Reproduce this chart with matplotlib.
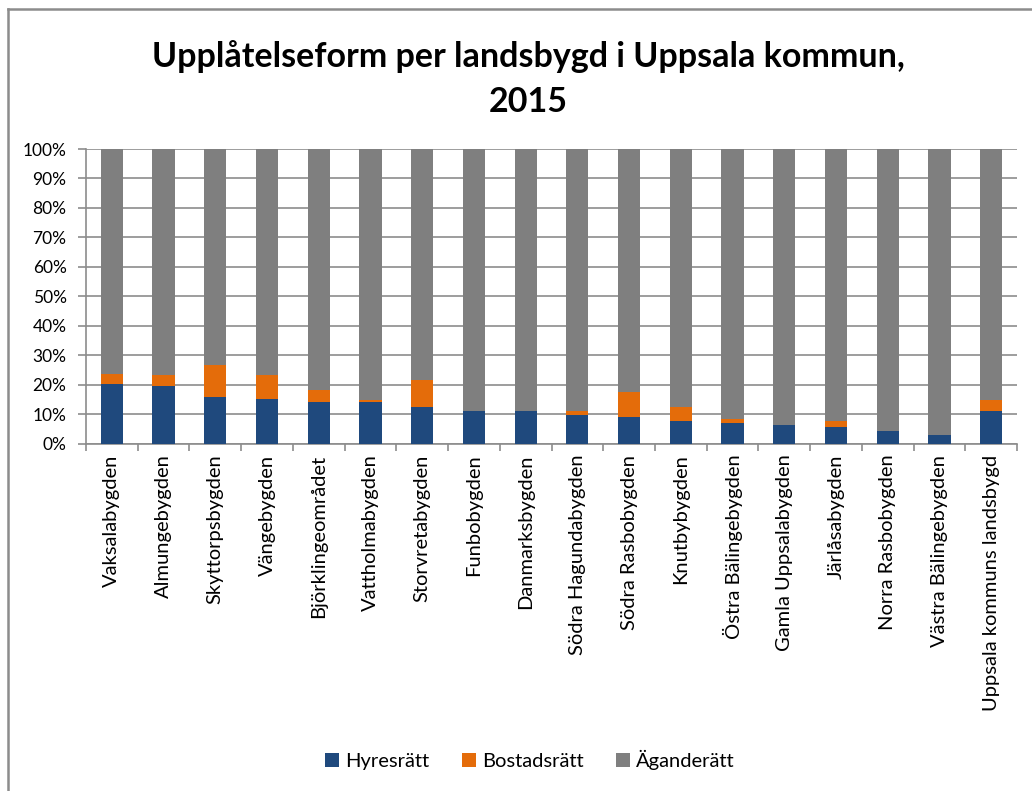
import numpy as np
import matplotlib.pyplot as plt
import matplotlib.ticker as ticker
from matplotlib.lines import Line2D

areas = ["Vaksalabygden", "Almungebygden", "Skyttorpsbygden", "Vängebygden",
         "Björklingeområdet", "Vattholmabygden", "Storvretabygden", "Funbobygden",
         "Danmarksbygden", "Södra Hagundabygden", "Södra Rasbobygden", "Knutbybygden",
         "Östra Bälingebygden", "Gamla Uppsalabygden", "Järlåsabygden",
         "Norra Rasbobygden", "Västra Bälingebygden", "Uppsala kommuns landsbygd"]
hyres = np.array([20.2, 19.4, 15.9, 15.2, 14.0, 14.0, 12.5, 11.1, 11.1,
                  9.8, 9.1, 7.7, 7.0, 6.4, 5.7, 4.2, 2.8, 11.1])
bostad = np.array([3.5, 3.7, 10.7, 7.9, 4.1, 0.7, 9.1, 0.0, 0.0,
                   1.3, 8.3, 4.8, 1.4, 0.0, 2.0, 0.0, 0.0, 3.6])
agande = 100.0 - hyres - bostad

C_BLUE, C_ORANGE, C_GRAY = "#1F497D", "#E46C0A", "#7F7F7F"

plt.rcParams['font.family'] = ['Lato', 'DejaVu Sans']

W, H = 1032, 791
fig = plt.figure(figsize=(W / 100, H / 100), dpi=100)
# chart frame: only the top and left edges fall inside the image
fig.add_artist(Line2D([8 / W, 8 / W], [0, 1 - 9 / H], color="#8c8c8c", lw=1.8))
fig.add_artist(Line2D([8 / W, 1], [1 - 9 / H, 1 - 9 / H], color="#8c8c8c", lw=1.8))

ax = fig.add_axes([86 / W, 1 - 443.5 / H, (1017 - 86) / W, (443.5 - 149) / H])

x = np.arange(len(areas))
w = 0.43
ax.bar(x, hyres, w, color=C_BLUE, label="Hyresrätt", zorder=3)
ax.bar(x, bostad, w, bottom=hyres, color=C_ORANGE, label="Bostadsrätt", zorder=3)
ax.bar(x, agande, w, bottom=hyres + bostad, color=C_GRAY, label="Äganderätt", zorder=3)

ax.set_xlim(-0.5, len(areas) - 0.5)
ax.set_ylim(0, 100)
ax.yaxis.set_major_locator(ticker.MultipleLocator(10))
ax.yaxis.set_major_formatter(ticker.FuncFormatter(lambda v, p: f"{v:.0f}%"))
ax.grid(axis='y', color="#8c8c8c", lw=1.2, zorder=0)
ax.set_xticks(x)
ax.set_xticklabels(areas, rotation=90, fontsize=14.5)
ax.xaxis.set_minor_locator(ticker.FixedLocator(np.arange(-0.5, len(areas), 1)))
ax.tick_params(axis='x', which='major', length=0, pad=8)
ax.tick_params(axis='x', which='minor', length=5, color="#8c8c8c", width=1.2)
ax.tick_params(axis='y', length=6, color="#8c8c8c", width=1.2, labelsize=12.5, pad=8)
for s in ["top", "right"]:
    ax.spines[s].set_visible(False)
for s in ["left", "bottom"]:
    ax.spines[s].set_color("#8c8c8c")
    ax.spines[s].set_linewidth(1.2)

fig.text(528 / W, 1 - 79 / H, "Upplåtelseform per landsbygd i Uppsala kommun,\n2015",
         ha="center", va="center", fontsize=24.5, fontweight="bold", linespacing=1.5)

fig.legend(loc="center", bbox_to_anchor=(530 / W, 1 - 760 / H), ncol=3, frameon=False,
           fontsize=14.5, handlelength=0.7, handleheight=0.7, handletextpad=0.3,
           columnspacing=1.6)

fig.savefig("out.png", dpi=100)
